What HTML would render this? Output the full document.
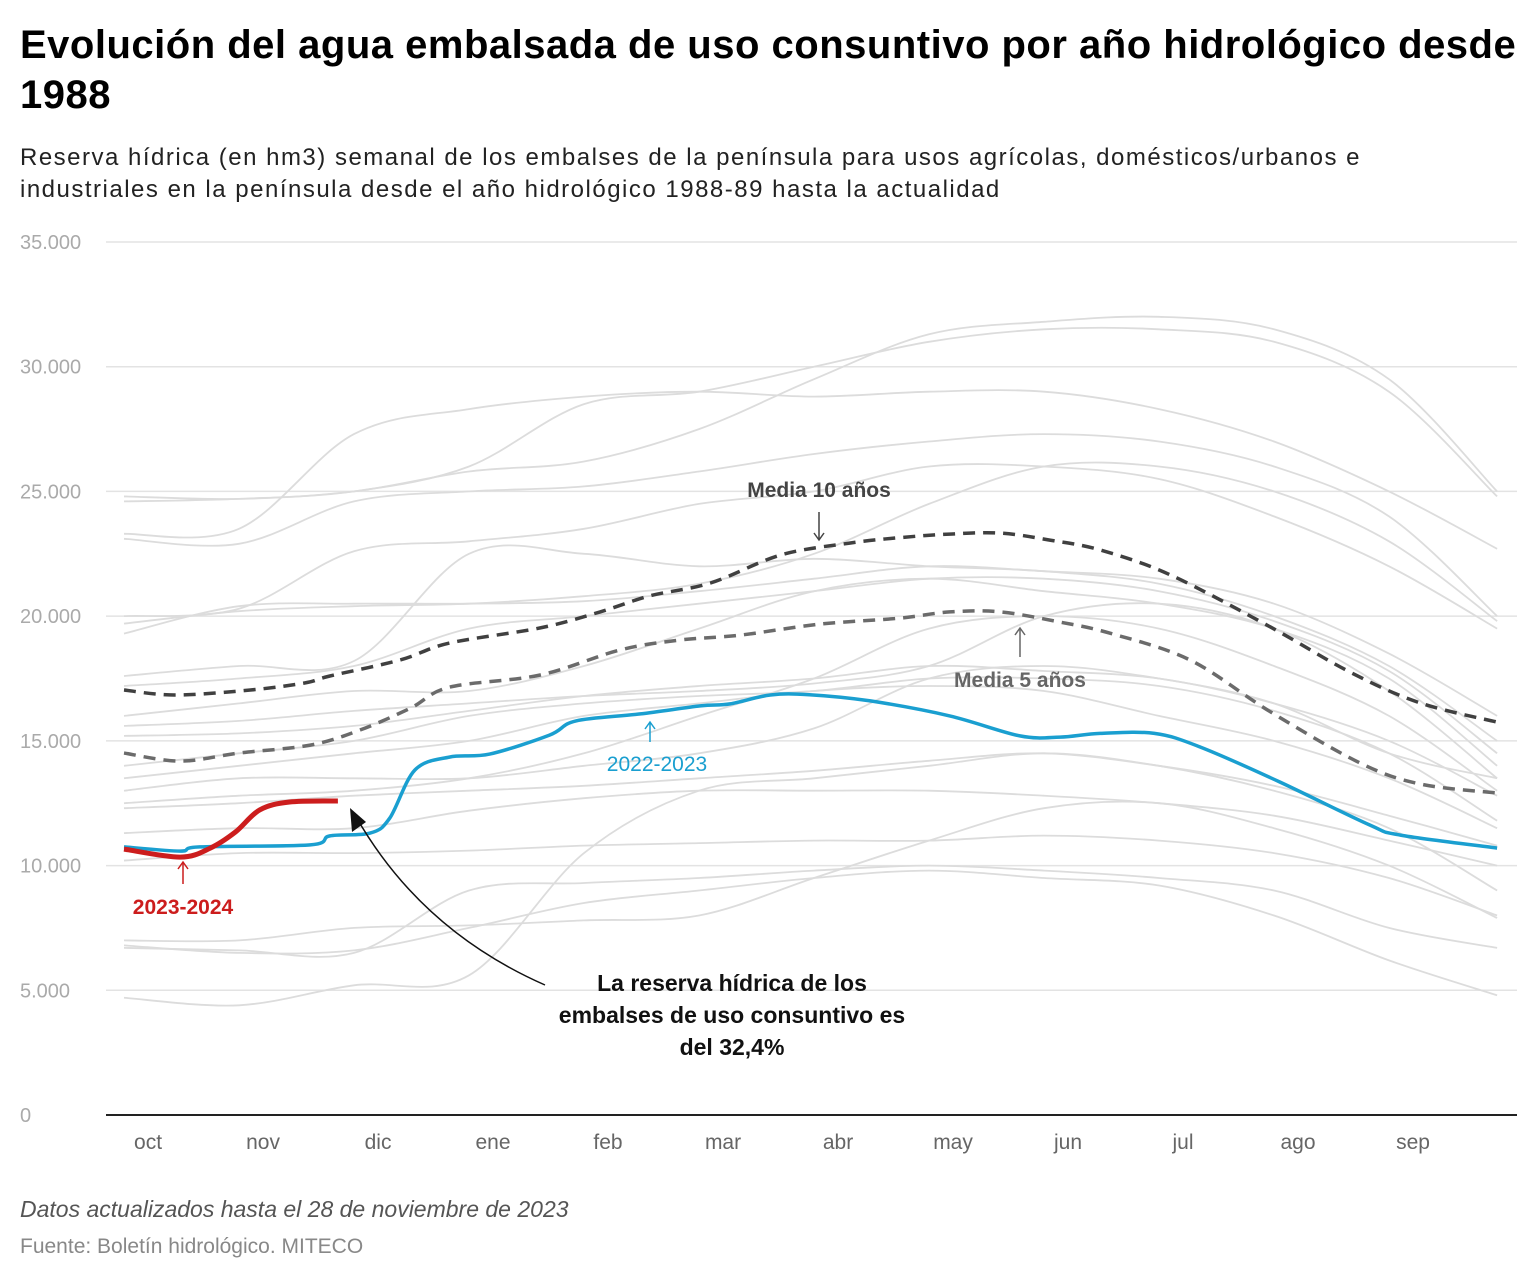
<!DOCTYPE html>
<html><head><meta charset="utf-8">
<style>
body{margin:0;background:#fff;font-family:"Liberation Sans",sans-serif;}
#wrap{position:relative;width:1540px;height:1280px;overflow:hidden;}
h1{position:absolute;left:20px;top:20px;margin:0;font-size:40px;line-height:50px;font-weight:bold;color:#000;width:1515px;letter-spacing:0.5px;white-space:nowrap}
.sub{position:absolute;left:20px;top:142px;font-size:24px;line-height:32px;color:#222;width:1500px;white-space:nowrap;letter-spacing:1.5px}
.note{position:absolute;left:20px;top:1196px;font-size:23px;font-style:italic;color:#555}
.src{position:absolute;left:20px;top:1235px;font-size:21px;color:#888}
svg{position:absolute;left:0;top:0}
</style></head><body>
<div id="wrap">
<h1>Evolución del agua embalsada de uso consuntivo por año hidrológico desde<br>1988</h1>
<div class="sub">Reserva hídrica (en hm3) semanal de los embalses de la península para usos agrícolas, domésticos/urbanos e<br>industriales en la península desde el año hidrológico 1988-89 hasta la actualidad</div>
<svg id="chart" width="1540" height="1280"></svg>
<div class="note">Datos actualizados hasta el 28 de noviembre de 2023</div>
<div class="src">Fuente: Boletín hidrológico. MITECO</div>
</div>
<script>
const yTicks=[0,5000,10000,15000,20000,25000,30000,35000];
const yTickLabels=["0","5.000","10.000","15.000","20.000","25.000","30.000","35.000"];
const months=["oct","nov","dic","ene","feb","mar","abr","may","jun","jul","ago","sep"];
const grayMonths=[0,1,2,3,4,5,6,7,8,9,10,11,11.94];
const grayLines=[
[24800,24700,25000,25800,26200,27500,29500,31300,31800,32000,31500,29500,25000],
[24600,24700,25000,26000,28500,29000,30000,31000,31500,31500,31000,29000,24800],
[23300,23500,27300,28300,28800,29000,28800,29000,29000,28300,27000,25000,22700],
[23100,22900,24600,25000,25200,25800,26500,27000,27300,27000,26000,24000,20000],
[20000,20300,22600,23000,23500,24500,25000,26000,26000,25500,24000,22000,19500],
[19700,20200,20400,20500,20800,21300,22500,24500,26000,26000,25000,23000,19800],
[19300,20400,20500,20500,20600,21000,21500,22000,21800,21500,20500,18500,16000],
[17600,18000,18200,22500,22500,22000,22300,22000,21800,21300,20000,18000,15000],
[17200,17500,18000,19500,20000,20500,21000,21500,21500,21000,19800,17800,14500],
[16000,16500,17000,17000,18000,19500,21000,21500,21000,20500,19500,17500,14000],
[15600,15800,16200,16500,16800,17000,17300,18000,20000,20500,19500,17000,13500],
[15200,15300,15600,16200,16800,17200,17500,18000,17800,17500,16500,15000,12800],
[14000,14500,15000,16000,16500,16800,17000,17500,17500,17200,16200,14500,11800],
[13500,14000,14500,15000,16000,16500,17000,17200,17000,16000,15000,13500,11500],
[13000,13500,13500,13500,14000,14500,15500,17500,18000,17500,16500,14500,13500],
[12500,12800,13000,13500,14500,16000,17500,19500,20000,19500,18000,16000,13000],
[12300,12500,12800,13000,13200,13500,13800,14200,14500,14000,13200,12000,10800],
[11300,11500,11500,12200,12700,13000,13000,13000,12800,12500,12000,11000,10000],
[10200,10500,10500,10600,10800,10900,11000,11000,11200,11000,10500,9500,8000],
[7000,7000,7500,7600,7800,8000,9500,11000,12300,12500,11500,10000,7900],
[6700,6600,6500,9000,9300,9500,9800,10000,9800,9500,9000,7500,6700],
[4700,4400,5200,5600,10500,13000,13500,14000,14500,14000,13000,11500,9000],
[6800,6500,6600,7500,8500,9000,9500,9800,9500,9200,8000,6200,4800]
];
const blueX=[0,0.49,0.66,1.62,1.79,2.14,2.31,2.53,2.83,3.18,3.7,3.93,4.49,5.01,5.27,5.62,5.96,6.49,7.18,7.79,8.14,8.49,8.96,9.36,10.05,10.83,11.1,11.94];
const blueV=[10750,10580,10750,10830,11190,11300,11900,13830,14350,14470,15230,15800,16080,16400,16480,16840,16850,16600,16000,15200,15150,15300,15300,14750,13350,11630,11220,10700];
const redX=[0,0.49,0.75,0.97,1.18,1.44,1.86];
const redV=[10660,10340,10700,11350,12230,12550,12590];
const m10X=[0,0.44,1.1,1.57,1.79,2.4,2.83,3.62,4.14,4.57,5.1,5.71,6.31,6.75,7.18,7.62,8.05,8.49,9.1,9.97,10.66,11.27,11.94];
const m10V=[17040,16840,17040,17320,17600,18240,18920,19530,20170,20810,21330,22450,22930,23150,23290,23330,23050,22650,21650,19560,17760,16520,15750];
const m5X=[0,0.49,1.0,1.62,2.05,2.49,2.83,3.62,4.31,4.83,5.36,6.05,6.75,7.18,7.62,8.14,8.57,9.27,9.97,10.75,11.27,11.94];
const m5V=[14510,14190,14510,14830,15430,16310,17150,17640,18640,19040,19240,19680,19920,20170,20170,19760,19320,18240,16160,14110,13270,12910];

const svg=document.getElementById('chart');
const NS='http://www.w3.org/2000/svg';
const X=m=>124+m*115;
const Y=v=>1115-v/35000*873;
function el(t,a){const e=document.createElementNS(NS,t);for(const k in a)e.setAttribute(k,a[k]);svg.appendChild(e);return e;}
function smooth(xs,vs){const p=xs.map((m,i)=>[X(m),Y(vs[i])]);let d='M'+p[0][0]+','+p[0][1];
for(let i=0;i<p.length-1;i++){const p0=p[Math.max(0,i-1)],p1=p[i],p2=p[i+1],p3=p[Math.min(p.length-1,i+2)];
const c1=[p1[0]+(p2[0]-p0[0])/6,p1[1]+(p2[1]-p0[1])/6],c2=[p2[0]-(p3[0]-p1[0])/6,p2[1]-(p3[1]-p1[1])/6];
d+='C'+c1[0].toFixed(1)+','+c1[1].toFixed(1)+' '+c2[0].toFixed(1)+','+c2[1].toFixed(1)+' '+p2[0].toFixed(1)+','+p2[1].toFixed(1);}return d;}
yTicks.forEach((v,i)=>{
 if(v>0){const g=el('line',{x1:106,x2:1517,y1:Y(v),y2:Y(v),stroke:'#e3e3e3','stroke-width':1.5});
 
 }
 const t=el('text',{x:20,y:Y(v)+7,'font-size':20,fill:'#aaa','font-family':'Liberation Sans, sans-serif'});t.textContent=yTickLabels[i];
 
 
});
const ax=el('line',{x1:106,x2:1517,y1:1115,y2:1115,stroke:'#222','stroke-width':2});


months.forEach((m,i)=>{const t=el('text',{x:X(i+0.209),y:1149,'font-size':21,fill:'#666','text-anchor':'middle','font-family':'Liberation Sans, sans-serif'});t.textContent=m;
 
 });
grayLines.forEach(vs=>{const p=el('path',{d:smooth(grayMonths,vs),fill:'none',stroke:'#dcdcdc','stroke-width':1.8});
 
 });
let p=el('path',{d:smooth(m5X,m5V),fill:'none',stroke:'#6b6b6b','stroke-width':3.5,'stroke-dasharray':'12 8'});


p=el('path',{d:smooth(m10X,m10V),fill:'none',stroke:'#404040','stroke-width':3.5,'stroke-dasharray':'12 8'});


p=el('path',{d:smooth(blueX,blueV),fill:'none',stroke:'#1a9fd0','stroke-width':3.5});


p=el('path',{d:smooth(redX,redV),fill:'none',stroke:'#cc1d1d','stroke-width':5});


function label(x,y,txt,col,w,name,anchor){const t=el('text',{x:x,y:y,'font-size':21,fill:col,'font-weight':w,'text-anchor':anchor||'middle','font-family':'Liberation Sans, sans-serif'});t.textContent=txt;
 
 return t;}
function arrow(x,y1,y2,col,name){const g=el('path',{d:`M${x},${y1}L${x},${y2}M${x-5},${y2+(y2>y1?-7:7)}L${x},${y2}L${x+5},${y2+(y2>y1?-7:7)}`,stroke:col,fill:'none','stroke-width':1.5});
 
 }
label(819,497,'Media 10 años','#444','bold','media-10-label');arrow(819,512,540,'#444','media-10-arrow');
label(1020,687,'Media 5 años','#666','bold','media-5-label');arrow(1020,657,628,'#666','media-5-arrow');
label(657,771,'2022-2023','#1a9fd0','normal','label-2022-2023');arrow(650,742,722,'#1a9fd0','arrow-2022-2023');
label(183,914,'2023-2024','#cc1d1d','bold','label-2023-2024');arrow(183,884,862,'#cc1d1d','arrow-2023-2024');
p=el('path',{d:'M545,985 Q420,930 355,815',stroke:'#111',fill:'none','stroke-width':1.5});


p=el('path',{d:'M350,808 L352,832 L366,822 Z',fill:'#111'});


['La reserva hídrica de los','embalses de uso consuntivo es','del 32,4%'].forEach((s,i)=>label(732,991+i*32,s,'#111','bold','annotation-text').setAttribute('font-size',23));
</script>
</body></html>
